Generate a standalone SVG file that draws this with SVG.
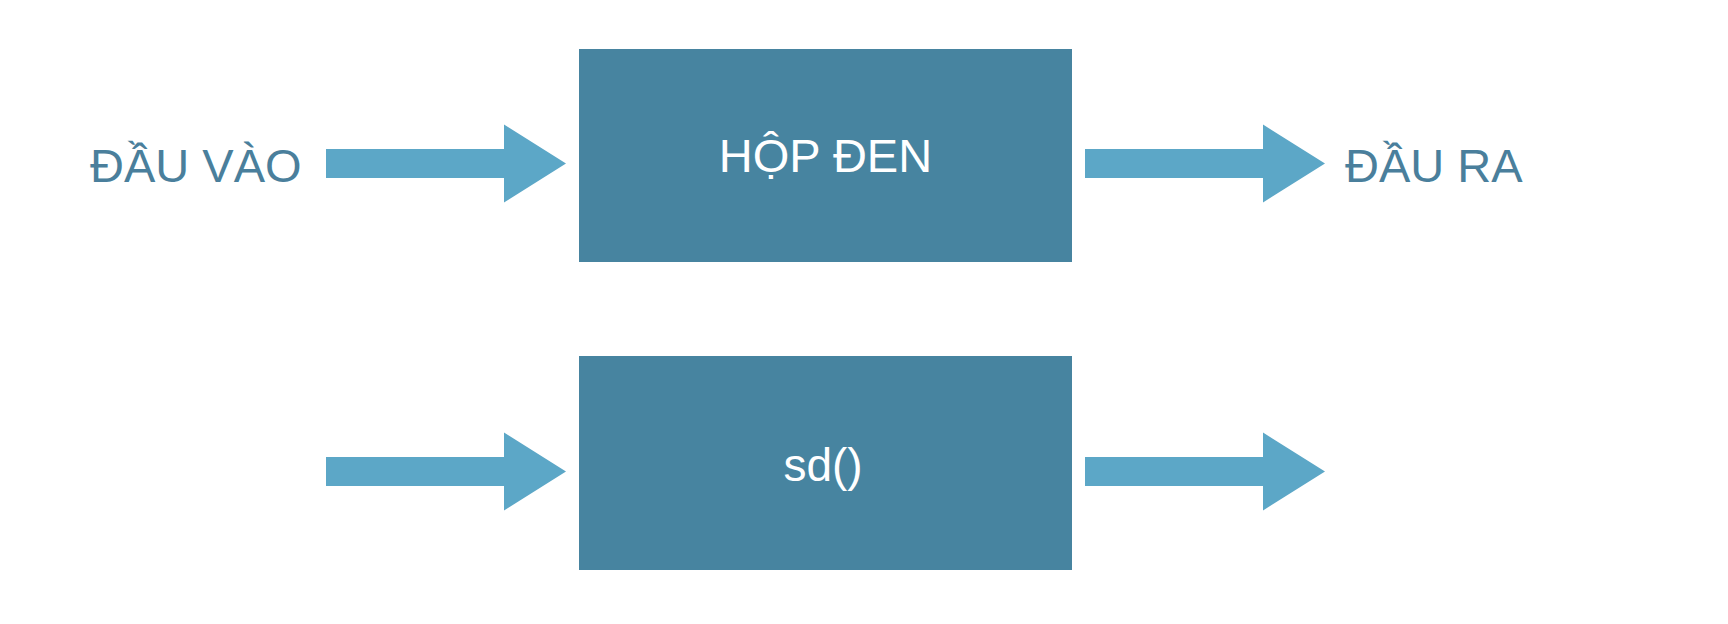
<svg xmlns="http://www.w3.org/2000/svg" width="1728" height="624" viewBox="0 0 1728 624">
  <defs>
    <style>
      .box { fill: #4784A0; }
      .arrow { fill: #5CA7C7; }
      .lbl { font-family: "Liberation Sans", Arial, sans-serif; font-size: 47px; fill: #4A7F9C; }
      .in { font-family: "Liberation Sans", Arial, sans-serif; font-size: 47px; fill: #FFFFFF; text-anchor: middle; }
    </style>
    <path id="arr" d="M0,-14.5 H178 V-39 L240,0 L178,39 V14.5 H0 Z"/>
  </defs>
  <rect width="1728" height="624" fill="#FFFFFF"/>
  <g id="label-in">
    <text class="lbl" x="90" y="182">ĐẦU VÀO</text>
  </g>
  <g id="label-out">
    <text class="lbl" x="1345" y="182">ĐẦU RA</text>
  </g>
  <g id="box-top">
    <rect class="box" x="579" y="49" width="493" height="213"/>
    <text class="in" x="825.5" y="172">HỘP ĐEN</text>
  </g>
  <g id="box-bottom">
    <rect class="box" x="579" y="356" width="493" height="214"/>
    <text class="in" x="823" y="481" style="font-size:46px">sd()</text>
  </g>
  <g id="connectors">
    <use href="#arr" class="arrow" transform="translate(326,163.5)"/>
    <use href="#arr" class="arrow" transform="translate(1085,163.5)"/>
    <use href="#arr" class="arrow" transform="translate(326,471.5)"/>
    <use href="#arr" class="arrow" transform="translate(1085,471.5)"/>
  </g>
</svg>
